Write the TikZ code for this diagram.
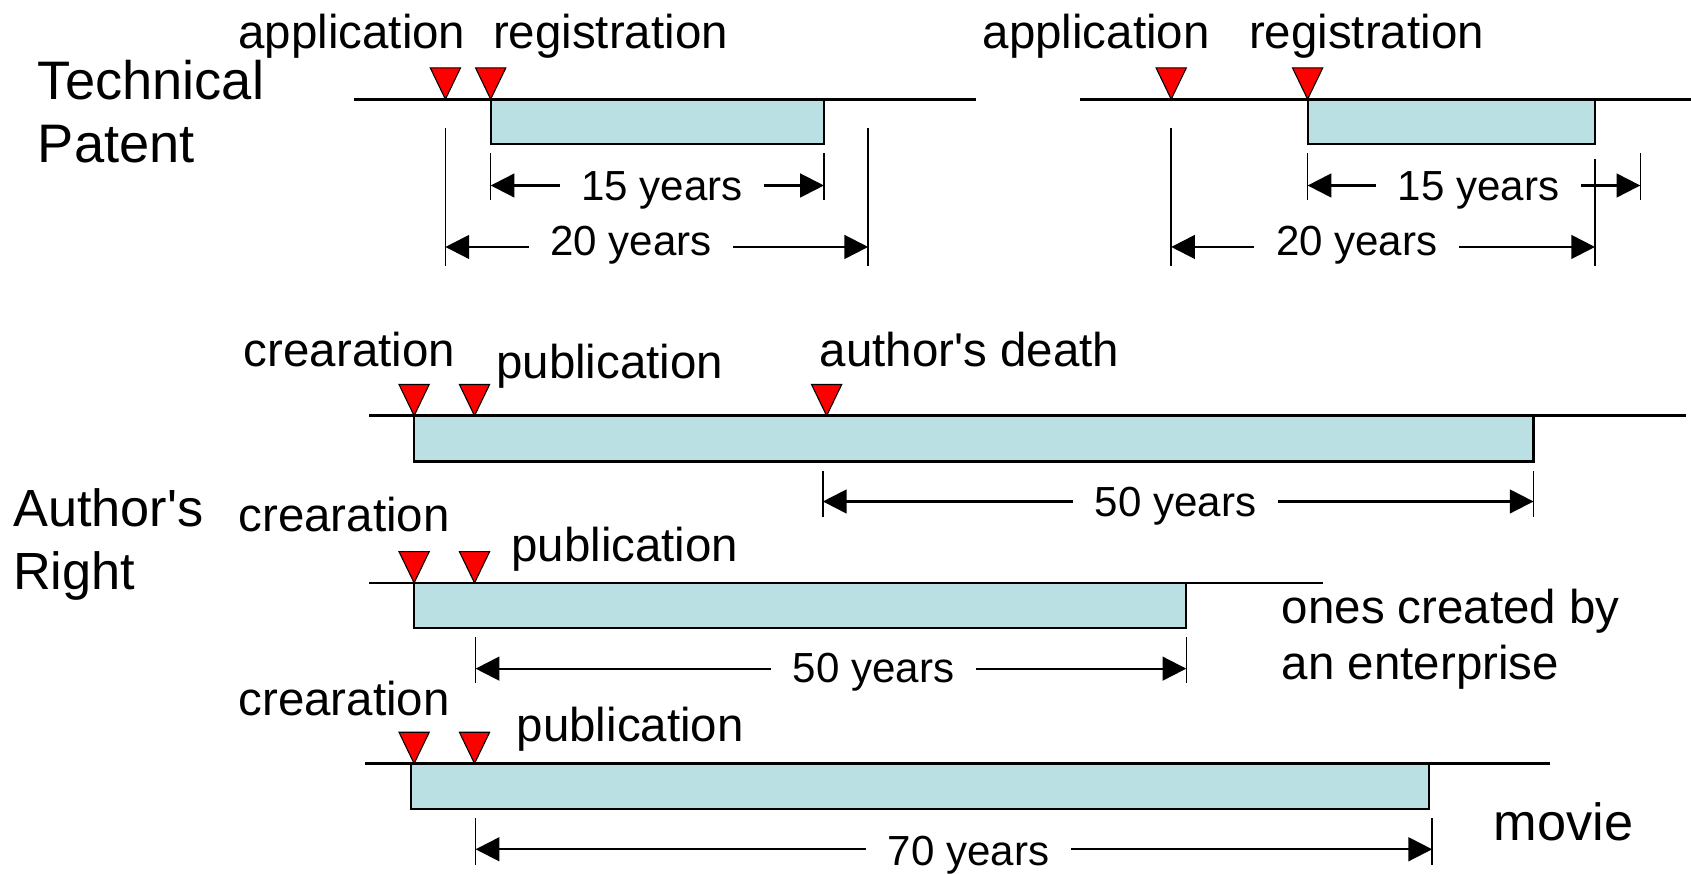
\documentclass[tikz,border=0pt]{standalone}
\usepackage{fontspec}
\setmainfont{Liberation Sans}
\usetikzlibrary{arrows.meta}
\definecolor{barblue}{HTML}{BAE0E3}
\definecolor{trired}{HTML}{FF0000}
\tikzset{
  timeline/.style={line width=2.6pt},
  barbox/.style={draw=black, line width=2pt, fill=barblue},
  tickline/.style={line width=1.4pt},
  dimline/.style={line width=2pt, {Triangle[length=22pt,width=22pt]}-{Triangle[length=22pt,width=22pt]}},
  evlabel/.style={anchor=base west, inner sep=0pt, font=\fontsize{44}{50}\selectfont},
  biglabel/.style={anchor=base west, inner sep=0pt, font=\fontsize{48.5}{54}\selectfont},
  yrs/.style={anchor=base, fill=white, inner xsep=20pt, inner ysep=0pt, font=\fontsize{39}{44}\selectfont},
  marker/.style={fill=trired, draw=black, line width=1pt, line join=miter},
}
\newcommand\tmark[3]{%
  \coordinate (#1) at (#2,#3);
  \draw[marker] ({#2-14},{#3-29}) -- ({#2+14},{#3-29}) -- (#1) -- cycle;}
\begin{document}
\begin{tikzpicture}[x=1pt,y=-1pt]
\useasboundingbox (0,0) rectangle (1568,810);

% ---------- Technical patent, left ----------
\node[biglabel, font=\fontsize{50.3}{56}\selectfont] (tech) at (35,92) {Technical};
\node[biglabel, font=\fontsize{50.3}{56}\selectfont] (pat) at (35,151) {Patent};
\draw[barbox] (455,92) rectangle (764,133.5);
\draw[timeline] (328,92) coordinate (aL1) -- (905,92) coordinate (aR1);
\tmark{app1}{413}{92}
\tmark{reg1}{455}{92}
\node[evlabel] (lapp1) at (221,45) {application};
\node[evlabel] (lreg1) at (457,45) {registration};
\draw[tickline] (413,119) coordinate (t1a) -- (413,247) coordinate (t1b);
\draw[tickline] (805,119) coordinate (t1c) -- (805,247) coordinate (t1d);
\draw[tickline] (455,142) coordinate (t1e) -- (455,185.5) coordinate (t1f);
\draw[tickline] (764,142) coordinate (t1g) -- (764,185.5) coordinate (t1h);
\coordinate (d1a) at (455,172); \coordinate (d1b) at (764,172);
\coordinate (d2a) at (413,229); \coordinate (d2b) at (805,229);
\draw[dimline] (d1a) -- (d1b);
\node[yrs] (y15a) at (614,186) {15 years};
\draw[dimline] (d2a) -- (d2b);
\node[yrs] (y20a) at (585,236.5) {20 years};

% ---------- Technical patent, right ----------
\draw[barbox] (1212.5,92) rectangle (1479,133.5);
\draw[timeline] (1001.5,92) coordinate (aL2) -- (1568,92) coordinate (aR2);
\tmark{app2}{1086}{92}
\tmark{reg2}{1212.5}{92}
\node[evlabel] (lapp2) at (911,45) {application};
\node[evlabel] (lreg2) at (1158,45) {registration};
\draw[tickline] (1086,119) coordinate (t2a) -- (1086,247) coordinate (t2b);
\draw[tickline] (1479,147) coordinate (t2c) -- (1479,247) coordinate (t2d);
\draw[tickline] (1212.5,142) coordinate (t2e) -- (1212.5,185.5) coordinate (t2f);
\draw[tickline] (1521,142) coordinate (t2g) -- (1521,185.5) coordinate (t2h);
\coordinate (d3a) at (1212.5,172); \coordinate (d3b) at (1521,172);
\coordinate (d4a) at (1086,229); \coordinate (d4b) at (1479,229);
\draw[dimline] (d3a) -- (d3b);
\node[yrs] (y15b) at (1371,186) {15 years};
\draw[dimline] (d4a) -- (d4b);
\node[yrs] (y20b) at (1258,236.5) {20 years};

% ---------- Author's right ----------
\node[biglabel] (auth) at (12,488) {Author\textquotesingle s};
\node[biglabel] (right) at (12,547) {Right};

% row 1: author's death
\draw[barbox] (384,385.5) rectangle (1422,428);
\draw[timeline] (342,385.5) coordinate (bL1) -- (1563,385.5) coordinate (bR1);
\tmark{cre1}{384}{385.5}
\tmark{pub1}{440}{385.5}
\tmark{death}{766.5}{385.5}
\node[evlabel] (lcre1) at (226,340) {crearation};
\node[evlabel] (lpub1) at (460,350.6) {publication};
\node[evlabel] (ldeath) at (760,340) {author\textquotesingle s death};
\draw[tickline] (763,437) coordinate (t3a) -- (763,479) coordinate (t3b);
\draw[tickline] (1422,437) coordinate (t3c) -- (1422,479) coordinate (t3d);
\coordinate (d5a) at (763,465); \coordinate (d5b) at (1422,465);
\draw[dimline] (d5a) -- (d5b);
\node[yrs] (y50a) at (1090,479) {50 years};

% row 2: enterprise
\draw[barbox] (384,540.5) rectangle (1100,582);
\draw[timeline] (342,540.5) coordinate (bL2) -- (1226.5,540.5) coordinate (bR2);
\tmark{cre2}{384}{540.5}
\tmark{pub2}{440}{540.5}
\node[evlabel] (lcre2) at (221,493) {crearation};
\node[evlabel] (lpub2) at (474,521) {publication};
\node[evlabel] (ent1) at (1188.5,578) {ones created by};
\node[evlabel] (ent2) at (1188.5,630.5) {an enterprise};
\draw[tickline] (441,591) coordinate (t4a) -- (441,633) coordinate (t4b);
\draw[tickline] (1100,591) coordinate (t4c) -- (1100,633) coordinate (t4d);
\coordinate (d6a) at (441,620); \coordinate (d6b) at (1100,620);
\draw[dimline] (d6a) -- (d6b);
\node[yrs] (y50b) at (810,633) {50 years};

% row 3: movie
\draw[barbox] (381,708) rectangle (1325,750.5);
\draw[timeline] (338.5,708) coordinate (bL3) -- (1437,708) coordinate (bR3);
\tmark{cre3}{384}{708}
\tmark{pub3}{440}{708}
\node[evlabel] (lcre3) at (221,663) {crearation};
\node[evlabel] (lpub3) at (479,688) {publication};
\node[biglabel] (movie) at (1385,779) {movie};
\draw[tickline] (441,758.6) coordinate (t5a) -- (441,802) coordinate (t5b);
\draw[tickline] (1328,758.6) coordinate (t5c) -- (1328,802) coordinate (t5d);
\coordinate (d7a) at (441,787.5); \coordinate (d7b) at (1328,787.5);
\draw[dimline] (d7a) -- (d7b);
\node[yrs] (y70) at (898,803) {70 years};
\end{tikzpicture}
\end{document}
